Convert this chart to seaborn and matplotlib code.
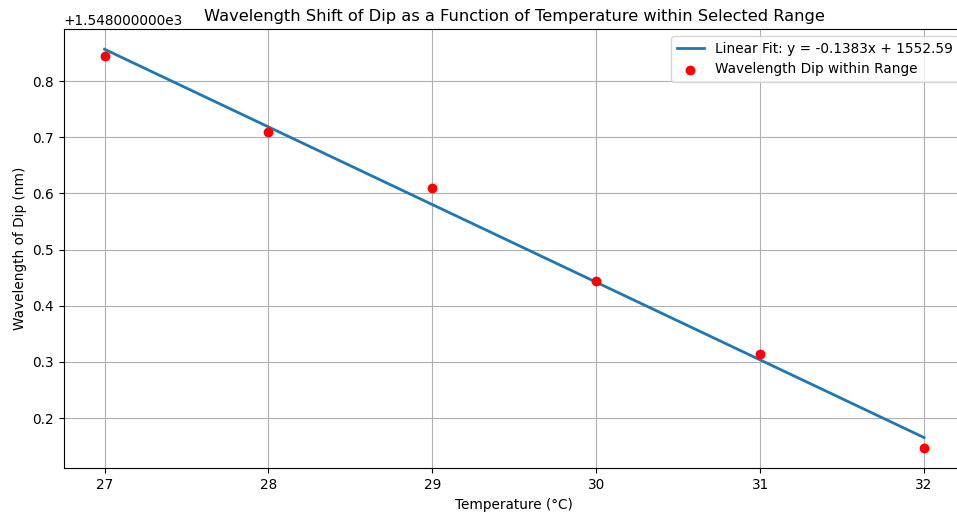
import numpy as np
import pandas as pd
import matplotlib
matplotlib.use("Agg")
import matplotlib.pyplot as plt
from matplotlib.ticker import ScalarFormatter
import seaborn as sns

# Data
temperature = [27, 28, 29, 30, 31, 32]
wavelength_dip = [1548.844, 1548.709, 1548.609, 1548.4443, 1548.3137, 1548.146]

title = "Wavelength Shift of Dip as a Function of Temperature within Selected Range"
xlabel = "Temperature (°C)"
ylabel = "Wavelength of Dip (nm)"
scatter_label = "Wavelength Dip within Range"

x = np.array(temperature, dtype=float)
y = np.array(wavelength_dip, dtype=float)
slope, intercept = np.polyfit(x, y, 1)
fit_label = f"Linear Fit: y = {slope:.4f}x + {intercept:.2f}"

df = pd.DataFrame({"T": x, "W": y, "Fit": slope * x + intercept})

fig = plt.figure(figsize=(9.57, 5.13), dpi=100)
ax = fig.add_subplot(111)
# the reference is a cropped view: the axes run slightly past the right edge
fig.subplots_adjust(left=0.0664, right=1.0084, top=0.9429, bottom=0.0871)

sns.lineplot(data=df, x="T", y="Fit", ax=ax, color="#1f77b4", linewidth=2.0,
             label=fit_label)
sns.scatterplot(data=df, x="T", y="W", ax=ax, color="red", s=50, linewidth=0,
                label=scatter_label, zorder=3)


class OffsetFmt(ScalarFormatter):
    def get_offset(self):
        if self.offset:
            return "+%.9fe3" % (self.offset / 1e3)
        return super().get_offset()


fmt = OffsetFmt(useOffset=True)
ax.yaxis.set_major_formatter(fmt)

ax.set_title(title, fontsize=11.7)
ax.set_xlabel(xlabel, fontsize=9.8)
ax.set_ylabel(ylabel, fontsize=9.8)
ax.tick_params(labelsize=9.8)
ax.yaxis.get_offset_text().set_fontsize(9.8)
ax.grid(True, color="#b0b0b0", linewidth=0.8)
ax.legend(loc="upper right", fontsize=9.8)

fig.savefig("out.png", dpi=100)
